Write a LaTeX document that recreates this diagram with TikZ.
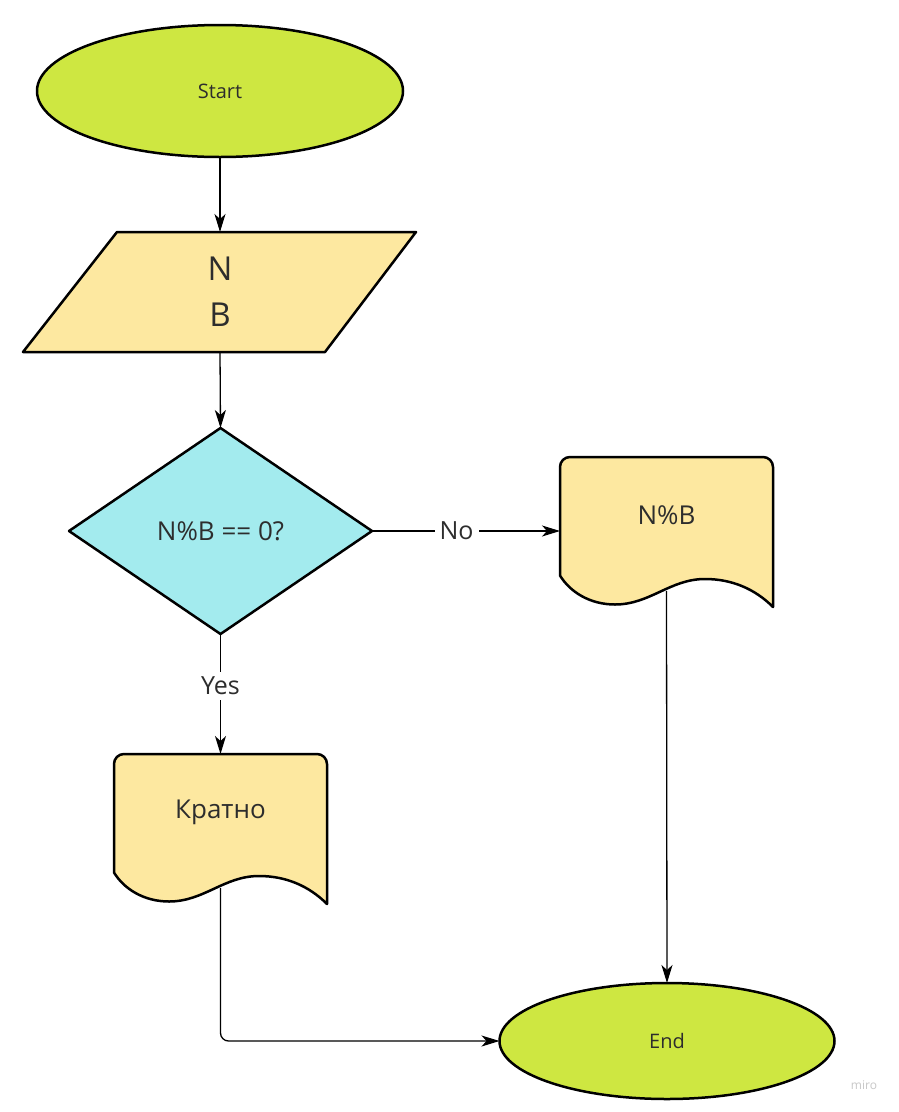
\documentclass[tikz,border=0pt]{standalone}
\usepackage{fontspec}
\setmainfont{Open Sans}
\usetikzlibrary{shapes.geometric,arrows.meta,calc}

\definecolor{termfill}{RGB}{206,231,65}
\definecolor{iofill}{RGB}{253,232,160}
\definecolor{decfill}{RGB}{163,235,238}
\definecolor{ink}{RGB}{45,45,45}
\definecolor{markgray}{RGB}{200,200,200}

\tikzset{
  shapeline/.style={line width=2.5pt, draw=black, line join=round},
  terminal/.style={ellipse, shapeline, fill=termfill, inner sep=0pt, outer sep=0pt,
    text=ink, font=\fontsize{20}{24}\selectfont},
  decision/.style={diamond, shapeline, fill=decfill, inner sep=0pt, outer sep=0pt,
    text=ink, font=\fontsize{26}{30}\selectfont},
  frame/.style={rectangle, draw=none, inner sep=0pt, outer sep=0pt,
    minimum width=213pt, minimum height=150pt},
  boxtext/.style={text=ink, font=\fontsize{26}{30}\selectfont, inner sep=0pt},
  flow/.style={line width=1.3pt, draw=black,
    -{Stealth[length=18pt,width=11pt,inset=5pt]}},
  edgelabel/.style={fill=white, inner sep=5pt, text=ink,
    font=\fontsize{25}{30}\selectfont},
  % document symbol: rounded top corners, wavy bottom edge (origin = top left)
  docsymbol/.pic={
    \path[shapeline, fill=iofill]
      (0,118.5) [rounded corners=10pt] -- (0,0) -- (213,0) [sharp corners] -- (213,150)
      .. controls (195,132) and (172,122) .. (145,122)
      .. controls (110,122) and (90,147.5) .. (55,147.5)
      .. controls (30,147.5) and (10,135) .. (0,118.5) -- cycle;
  }
}

\begin{document}
\begin{tikzpicture}[x=1pt, y=-1pt]
  % canvas
  \fill[white] (0,0) rectangle (898,1112);
  \useasboundingbox (0,0) rectangle (898,1112);

  % terminals and decision
  \node[terminal, minimum width=366pt, minimum height=132pt] (start) at (220,91) {Start};
  \node[decision, minimum width=303pt, minimum height=206pt] (dec) at (220.5,531) {N\%B == 0?};
  \node[terminal, minimum width=335pt, minimum height=116pt] (end) at (667,1041) {End};

  % input parallelogram
  \path[shapeline, fill=iofill] (117,232) -- (416,232) -- (325,352) -- (23,352) -- cycle;
  \node[rectangle, draw=none, inner sep=0pt, outer sep=0pt, minimum height=120pt,
        align=center, text=ink, font=\fontsize{33}{46}\selectfont] (inp) at (220,292) {N\\B};

  % output documents
  \pic at (560,457) {docsymbol};
  \node[frame] (rem) at (666.5,532) {};
  \node[boxtext] (remtext) at (666.5,515) {N\%B};
  \coordinate (remout) at ($(rem.north)+(0,134)$);

  \pic at (114,754) {docsymbol};
  \node[frame] (mult) at (220.5,829) {};
  \node[boxtext] (multtext) at (220.5,812) {Кратно};
  \coordinate (multout) at ($(mult.north)+(0,134)$);

  % connectors
  \draw[flow] (start.south) -- (inp.north);
  \draw[flow] (inp.south) -- (dec.north);
  \draw[flow] (dec.east) -- node[edgelabel, pos=0.45] {No} (dec.east -| rem.west);
  \draw[flow] (dec.south) -- node[edgelabel, pos=0.433] {Yes} (mult.north);
  \draw[flow] (remout) -- (end.north);
  \draw[flow, rounded corners=8pt] (multout) |- (end.west);

  % watermark
  \node[text=markgray, font=\fontsize{12}{14}\selectfont] (mark) at (864,1085) {miro};
\end{tikzpicture}
\end{document}
